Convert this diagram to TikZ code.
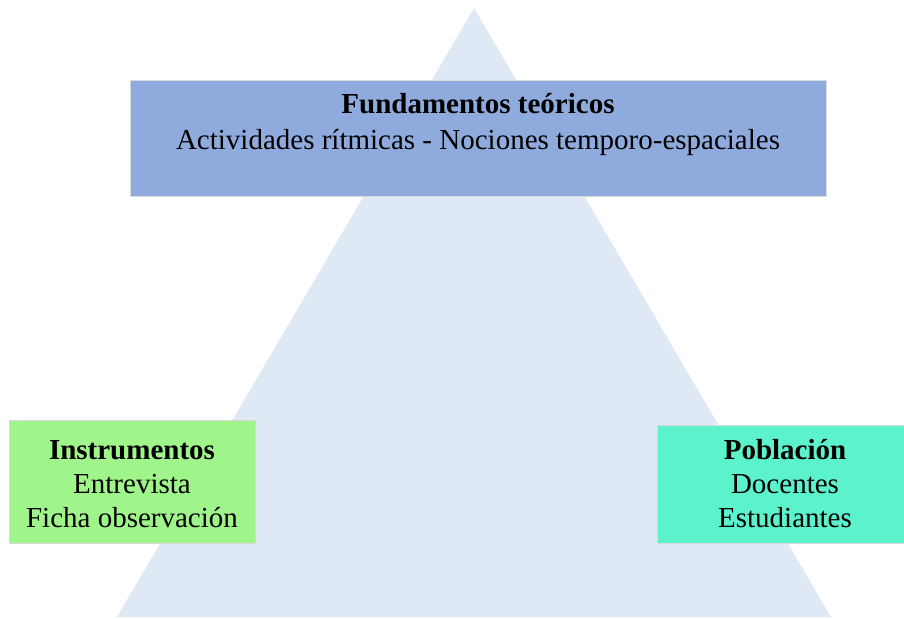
\documentclass[tikz,border=0pt]{standalone}
\usepackage{fontspec}
\setmainfont{Liberation Serif}
\definecolor{tri}{HTML}{DEE9F5}
\definecolor{topc}{HTML}{8FAADC}
\definecolor{leftc}{HTML}{A0F58A}
\definecolor{rightc}{HTML}{5CF2CC}
\begin{document}
\begin{tikzpicture}[x=1pt,y=-1pt,
  boxstyle/.style={draw=white!85!black, line width=0.8pt},
  txt/.style={align=center, font=\fontsize{29}{34}\selectfont, inner sep=0pt}]
\useasboundingbox (0,0) rectangle (904,618);
\coordinate (apex) at (474,8);
\coordinate (bl) at (117,617);
\coordinate (br) at (831,617);
\fill[tri] (apex) -- (bl) -- (br) -- cycle;
\filldraw[boxstyle, fill=topc] (130,80) rectangle (826,196);
\filldraw[boxstyle, fill=leftc] (9,420) rectangle (255,543);
\filldraw[boxstyle, fill=rightc] (657,425) rectangle (904,543);
\node[txt, font=\fontsize{29}{36}\selectfont] (top) at (478,125) {\textbf{Fundamentos teóricos}\\Actividades rítmicas - Nociones temporo-espaciales};
\node[txt] (left) at (132,484) {\textbf{Instrumentos}\\Entrevista\\Ficha observación};
\node[txt] (right) at (785,484) {\textbf{Población}\\Docentes\\Estudiantes};
\end{tikzpicture}
\end{document}
